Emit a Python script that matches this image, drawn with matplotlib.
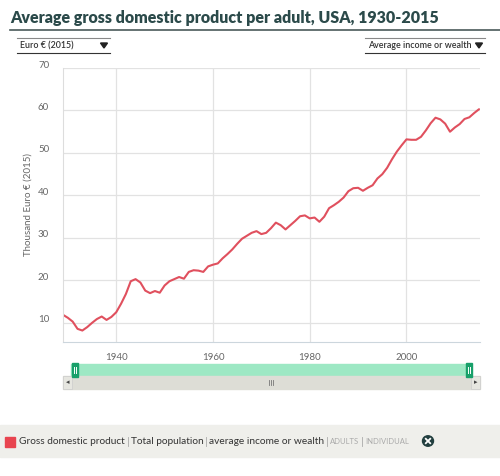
import matplotlib
matplotlib.use("Agg")
import matplotlib.pyplot as plt
from matplotlib.patches import Rectangle, Circle, Polygon
from matplotlib.lines import Line2D
import matplotlib.transforms as mtransforms

years = list(range(1929, 2016))
gdp = [11.9, 11.2, 10.3, 8.6, 8.2, 9.0, 10.0, 10.9, 11.5, 10.7,
       11.4, 12.5, 14.5, 16.8, 19.8, 20.3, 19.5, 17.6, 17.0, 17.5,
       17.1, 18.8, 19.8, 20.3, 20.8, 20.4, 22.0, 22.4, 22.3, 22.0,
       23.3, 23.7, 24.0, 25.2, 26.2, 27.3, 28.6, 29.8, 30.5, 31.2,
       31.6, 30.9, 31.2, 32.3, 33.6, 33.0, 32.0, 33.0, 34.0, 35.1,
       35.3, 34.6, 34.8, 33.8, 35.0, 37.0, 37.7, 38.5, 39.5, 41.0,
       41.7, 41.8, 41.1, 41.8, 42.4, 44.0, 45.0, 46.5, 48.5, 50.3,
       51.8, 53.2, 53.1, 53.1, 53.8, 55.3, 57.0, 58.3, 57.9, 56.9,
       55.0, 56.0, 56.8, 58.0, 58.4, 59.4, 60.3]
yticks = [10, 20, 30, 40, 50, 60, 70]
xticks = [1940, 1960, 1980, 2000]
legend_parts = ["Gross domestic product", "Total population",
                "average income or wealth", "ADULTS", "INDIVIDUAL"]

W, H = 500, 476
fig = plt.figure(figsize=(W / 100, H / 100), dpi=100)
fig.patch.set_facecolor("white")

def fx(px):
    return px / W

def fy(py):
    return 1 - py / H

FONT = "Lato"
dark = "#2b4a4a"

# title
fig.text(fx(10), fy(18), "Average gross domestic product per adult, USA, 1930-2015",
         fontsize=11.5, fontweight="heavy", color=dark, family=FONT, va="center", ha="left")
fig.add_artist(Line2D([fx(10), fx(500)], [fy(29.5), fy(29.5)], color="#4a5a5a", lw=1.2))

# dropdowns
for x0, x1, label in [(17, 110, "Euro € (2015)"), (365, 485, "Average income or wealth")]:
    fig.add_artist(Line2D([fx(x0), fx(x1)], [fy(38), fy(38)], color="#888888", lw=0.8))
    fig.add_artist(Line2D([fx(x0), fx(x1)], [fy(52.5), fy(52.5)], color="#333333", lw=0.8))
    fig.text(fx(x0 + 3), fy(45.5), label, fontsize=6.4, color="#333333", family=FONT,
             va="center", ha="left", fontweight="semibold")
    tx = x1 - 6
    fig.add_artist(Polygon([[fx(tx - 3.5), fy(43)], [fx(tx + 3.5), fy(43)], [fx(tx), fy(48)]],
                           closed=True, color="#222222", transform=fig.transFigure))

# main axes
L, R, T, B = 63, 480, 68, 342
ax = fig.add_axes([fx(L), fy(B), (R - L) / W, (B - T) / H])
ax.plot(years, gdp, color="#e0505e", lw=1.5, solid_joinstyle="round", solid_capstyle="round")
ax.set_xlim(1929, 2015.2)
ax.set_ylim(5.5, 70)
ax.set_yticks(yticks)
ax.set_xticks(xticks)
ax.grid(True, color="#e2e2e2", lw=0.9)
ax.set_axisbelow(True)
for s in ["top", "right"]:
    ax.spines[s].set_visible(False)
ax.spines["left"].set_color("#dddddd")
ax.spines["bottom"].set_color("#ccd6dd")
ax.tick_params(length=0, labelsize=7, colors="#666666", pad=8)
ax.tick_params(axis="y", pad=10)
for lab in ax.get_xticklabels() + ax.get_yticklabels():
    lab.set_family(FONT)
ax.set_ylabel("Thousand Euro € (2015)", fontsize=7, color="#666666", family=FONT)
ax.yaxis.set_label_coords(-0.072, 0.5)
off = mtransforms.ScaledTranslation(0, 4 / 100, fig.dpi_scale_trans)
for lab in ax.get_yticklabels():
    lab.set_transform(lab.get_transform() + off)

# range slider
fig.add_artist(Rectangle((fx(71), fy(376)), (471 - 71) / W, 12 / H, color="#9de8c4",
                         transform=fig.transFigure))
fig.add_artist(Rectangle((fx(63), fy(388.5)), (480 - 63) / W, 12.5 / H, color="#ddddd6",
                         transform=fig.transFigure))
fig.add_artist(Rectangle((fx(63), fy(388.5)), 9 / W, 12.5 / H, facecolor="#e6e6e0",
                         edgecolor="#cccccc", lw=0.5, transform=fig.transFigure))
fig.add_artist(Rectangle((fx(471), fy(388.5)), 9 / W, 12.5 / H, facecolor="#e6e6e0",
                         edgecolor="#cccccc", lw=0.5, transform=fig.transFigure))
fig.text(fx(67.5), fy(382.5), "◂", fontsize=5, color="#444444", ha="center", va="center")
fig.text(fx(475.5), fy(382.5), "▸", fontsize=5, color="#444444", ha="center", va="center")
for gx in [269, 271, 273]:
    fig.add_artist(Line2D([fx(gx), fx(gx)], [fy(380), fy(385)], color="#777777", lw=0.6))
for hx in [71.5, 465.5]:
    fig.add_artist(Rectangle((fx(hx), fy(376.5)), 6 / W, 13.5 / H, color="#18a06a",
                             transform=fig.transFigure))
    for gx in [hx + 2, hx + 4]:
        fig.add_artist(Line2D([fx(gx), fx(gx)], [fy(367), fy(373)], color="white", lw=0.7))

# legend bar
fig.add_artist(Rectangle((0, fy(457)), 1, 32 / H, color="#efefeb", transform=fig.transFigure))
fig.add_artist(Rectangle((fx(5), fy(446.5)), 10 / W, 10 / H, color="#e8444f",
                         transform=fig.transFigure))
lx = [19, 131, 209, 330, 365]
sep_x = [127.5, 205.5, 326.5, 361.5]
styles = [("#333333", 7.3), ("#333333", 7.3), ("#333333", 7.3), ("#aaaaaa", 5.5), ("#aaaaaa", 5.5)]
for s, x, (c, fs) in zip(legend_parts, lx, styles):
    fig.text(fx(x), fy(441.5), s, fontsize=fs, color=c, family=FONT, va="center", ha="left")
for x in sep_x:
    fig.add_artist(Line2D([fx(x), fx(x)], [fy(436.5), fy(446)], color="#aaaaaa", lw=0.6))
fig.add_artist(Circle((fx(428), fy(441)), 5.5 / W, color="#223f3f", transform=fig.transFigure))
fig.add_artist(Line2D([fx(425.8), fx(430.2)], [fy(438.8), fy(443.2)], color="white", lw=1.3))
fig.add_artist(Line2D([fx(425.8), fx(430.2)], [fy(443.2), fy(438.8)], color="white", lw=1.3))

fig.savefig("out.png", dpi=100)
